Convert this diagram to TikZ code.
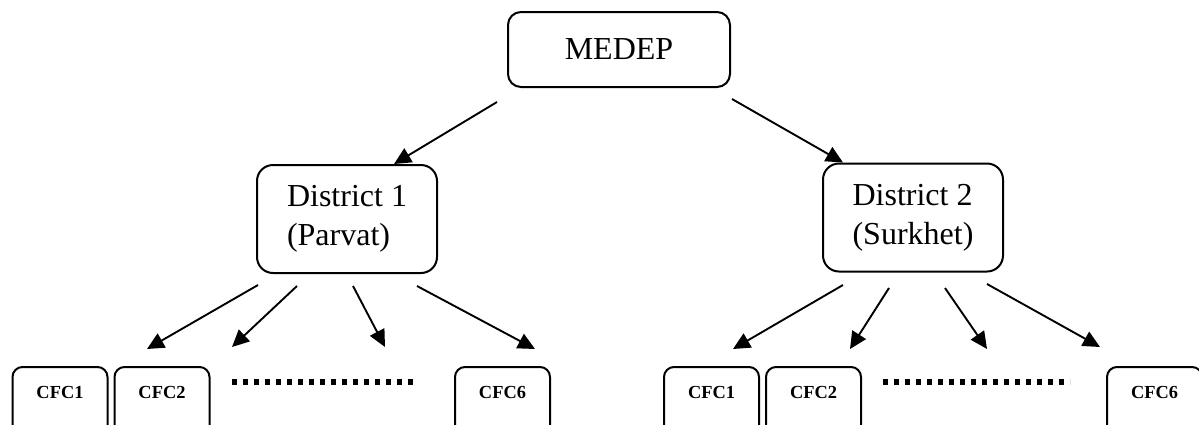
\documentclass[tikz,border=0pt]{standalone}
\usepackage{fontspec}
\setmainfont{Liberation Serif}
\usetikzlibrary{arrows.meta}
\newcommand{\cfcbox}[3]{ \node[cfc] (#1) at (#2,366) {#3};}
\newcommand{\dotrow}[2]{ \draw[dotline] (#1,382) -- (#2,382);}

\begin{document}
\begin{tikzpicture}[x=0.5pt,y=-0.5pt,
    box/.style={draw,line width=1pt,inner sep=0pt,font=\fontsize{16}{19.5}\selectfont},
    topbox/.style={box,rounded corners=6.5pt,minimum width=111pt,minimum height=37.5pt},
    district/.style={box,rounded corners=8pt,minimum width=90pt,minimum height=54pt,align=left},
    cfc/.style={draw,line width=1pt,rounded corners=5pt,anchor=north,minimum width=47.5pt,inner sep=0pt,
        text height=15.5pt,text depth=19.5pt,font=\bfseries\fontsize{9.2}{11}\selectfont},
    arr/.style={-{Triangle[length=8.5pt,width=8pt]},line width=0.95pt},
    dotline/.style={line width=2.8pt,dash pattern=on 2.7pt off 2.8pt}]
        \clip (0,0) rectangle (1199,424);
        % top
        \node[topbox] (medep) at (619,49.5) {MEDEP};
        % districts
        \node[district] (dist1) at (347,219) {District 1\\(Parvat)};
        \node[district] (dist2) at (913,217.5) {District 2\\(Surkhet)};
        % row of CFCs, left
        \cfcbox{cfcA1}{60}{CFC1}
        \cfcbox{cfcA2}{162}{CFC2}
        \cfcbox{cfcA6}{502.5}{CFC6}
        \dotrow{232}{418}
        % row of CFCs, right
        \cfcbox{cfcB1}{711.5}{CFC1}
        \cfcbox{cfcB2}{813.5}{CFC2}
        \cfcbox{cfcB6}{1154.5}{CFC6}
        \dotrow{883}{1070}
        % arrow ends
        \coordinate (m1) at (497,102);
        \coordinate (m2) at (732,99);
        \coordinate (a1) at (258,285);   \coordinate (a1e) at (147,349);
        \coordinate (a2) at (297,286);   \coordinate (a2e) at (232,347);
        \coordinate (a3) at (353,286);   \coordinate (a3e) at (385,347);
        \coordinate (a4) at (417,286);   \coordinate (a4e) at (535,349);
        \coordinate (b1) at (843,285);   \coordinate (b1e) at (733,349);
        \coordinate (b2) at (889,288);   \coordinate (b2e) at (850,349);
        \coordinate (b3) at (945,288);   \coordinate (b3e) at (987,349);
        \coordinate (b4) at (987,284);   \coordinate (b4e) at (1100,347);
        % arrows
        \draw[arr] (m1) -- (dist1.north -| 394,0);
        \draw[arr] (m2) -- (dist2.north -| 843,0);
        \draw[arr] (a1) -- (a1e);
        \draw[arr] (a2) -- (a2e);
        \draw[arr] (a3) -- (a3e);
        \draw[arr] (a4) -- (a4e);
        \draw[arr] (b1) -- (b1e);
        \draw[arr] (b2) -- (b2e);
        \draw[arr] (b3) -- (b3e);
        \draw[arr] (b4) -- (b4e);
\end{tikzpicture}
\end{document}
